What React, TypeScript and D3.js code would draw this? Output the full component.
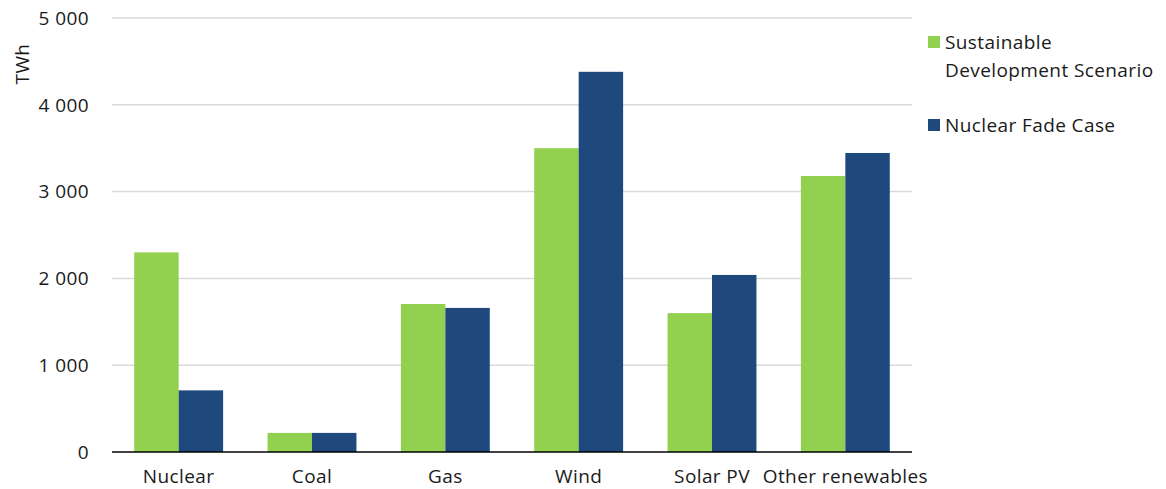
import React from "react";
import * as d3 from "d3";

const categories = ["Nuclear", "Coal", "Gas", "Wind", "Solar PV", "Other renewables"];
const seriesNames = ["Sustainable Development Scenario", "Nuclear Fade Case"];
const sdsValues = [2300, 220, 1705, 3500, 1600, 3180];
const fadeValues = [710, 220, 1660, 4380, 2040, 3445];
const yTicks = [0, 1000, 2000, 3000, 4000, 5000];
const colors = ["#92D050", "#1F497D"];

const W = 1166, H = 489;
const left = 112, right = 912, top = 18, bottom = 452;
const font = "'Open Sans', 'Noto Sans', sans-serif";
const fs = 19;
const ls = 0.4;

export default function App() {
  const x = d3.scaleBand<string>().domain(categories).range([left, right]).paddingInner(0).paddingOuter(0);
  const y = d3.scaleLinear().domain([0, 5000]).range([bottom, top]);
  const inner = d3.scaleBand<number>().domain([0, 1]).range([0, x.bandwidth()]).paddingInner(0).paddingOuter(0.5);
  const fmt = (v: number) => d3.format(",")(v).replace(/,/g, " ");
  const series = [sdsValues, fadeValues];
  return (
    <svg width={W} height={H} style={{ position: "absolute", left: 0, top: 0, background: "#fff" }} fontFamily={font} letterSpacing={ls}>
      {yTicks.filter(t => t > 0).map(t => (
        <line key={t} x1={left} x2={right} y1={y(t)} y2={y(t)} stroke="#d9d9d9" strokeWidth={1.5} />
      ))}
      {yTicks.map(t => (
        <text key={t} x={89} y={y(t)} dy="0.36em" textAnchor="end" fontSize={fs} fill="#1a1a1a">{fmt(t)}</text>
      ))}
      <text transform={`translate(29,64) rotate(-90)`} textAnchor="middle" fontSize={fs} fill="#1a1a1a">TWh</text>
      {series.map((vals, si) =>
        vals.map((v, i) => (
          <rect key={`${si}-${i}`} x={(x(categories[i]) ?? 0) + (inner(si) ?? 0)} y={y(v)}
            width={inner.bandwidth()} height={y(0) - y(v)} fill={colors[si]} />
        ))
      )}
      <line x1={left} x2={right} y1={bottom} y2={bottom} stroke="#000" strokeWidth={1.5} />
      {categories.map(c => (
        <text key={c} x={(x(c) ?? 0) + x.bandwidth() / 2} y={483} textAnchor="middle" fontSize={fs} fill="#1a1a1a">{c}</text>
      ))}
      <rect x={928} y={36} width={12} height={12} fill={colors[0]} />
      <text x={945} y={49} fontSize={fs} fill="#1a1a1a">Sustainable</text>
      <text x={945} y={77} fontSize={fs} fill="#1a1a1a">Development Scenario</text>
      <rect x={928} y={119} width={12} height={12} fill={colors[1]} />
      <text x={945} y={132} fontSize={fs} fill="#1a1a1a">Nuclear Fade Case</text>
    </svg>
  );
}
